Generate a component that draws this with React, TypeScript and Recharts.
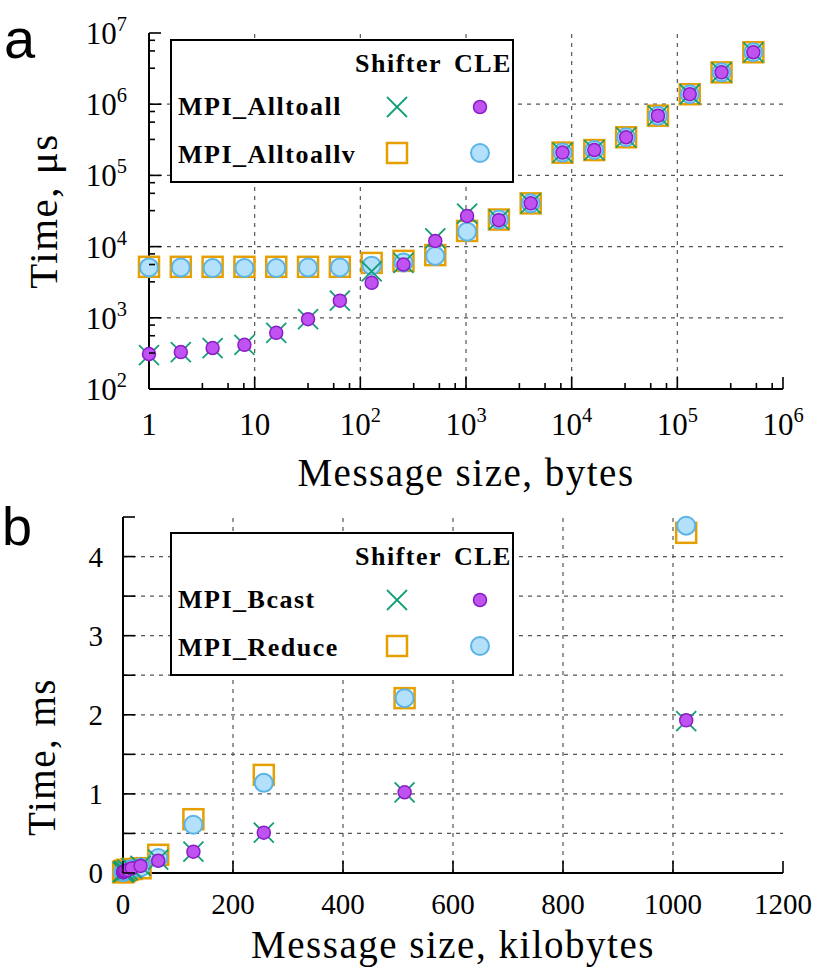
import React from "react";
import { ScatterChart, Scatter, XAxis, YAxis, ReferenceLine, Legend } from "recharts";

const SERIF = '"Liberation Serif", "Times New Roman", serif';
const SANS = '"Liberation Sans", Arial, sans-serif';

const GREEN = "#129e78";
const PURPLE_FILL = "#c152f2";
const PURPLE_LINE = "#8a1ec6";
const ORANGE = "#e69f00";
const BLUE_FILL = "#b3e0fa";
const BLUE_LINE = "#5ab4e8";
const GRID = "#555";

// panel a: message size in bytes, time in microseconds
const bytes = [1, 2, 4, 8, 16, 32, 64, 128, 256, 512, 1024, 2048, 4096, 8192, 16384, 32768, 65536, 131072, 262144, 524288];
const alltoallShifter = [300, 330, 376, 417, 615, 955, 1740, 4500, 5900, 13000, 29000, 24000, 40500, 209000, 227000, 343000, 690000, 1380000, 2800000, 5360000];
const alltoallCLE = [310, 330, 376, 417, 615, 955, 1740, 3100, 5600, 12000, 27000, 23500, 40500, 209000, 227000, 343000, 690000, 1380000, 2800000, 5360000];
const alltoallvShifter = [5200, 5200, 5200, 5200, 5200, 5200, 5200, 5900, 6300, 7600, 16600, 24000, 40500, 209000, 227000, 343000, 690000, 1380000, 2800000, 5360000];
const alltoallvCLE = [5100, 5100, 5000, 5000, 5000, 5100, 5100, 5400, 6000, 7400, 16200, 24000, 40500, 209000, 227000, 343000, 690000, 1380000, 2800000, 5360000];

// panel b: message size in kilobytes, time in milliseconds
const kilobytes = [0.25, 0.5, 1, 2, 4, 8, 16, 32, 64, 128, 256, 512, 1024];
const bcastShifter = [0.01, 0.01, 0.015, 0.02, 0.025, 0.04, 0.06, 0.09, 0.17, 0.27, 0.51, 1.02, 1.92];
const bcastCLE = [0.01, 0.01, 0.015, 0.02, 0.025, 0.035, 0.06, 0.09, 0.155, 0.27, 0.51, 1.02, 1.93];
const reduceShifter = [0.01, 0.012, 0.015, 0.02, 0.03, 0.04, 0.05, 0.06, 0.23, 0.68, 1.24, 2.21, 4.3];
const reduceCLE = [0.01, 0.012, 0.015, 0.02, 0.03, 0.04, 0.05, 0.07, 0.19, 0.61, 1.14, 2.21, 4.39];

// ticks
const xMajorA = [1, 10, 100, 1e3, 1e4, 1e5, 1e6];
const yMajorA = [1e2, 1e3, 1e4, 1e5, 1e6, 1e7];
const minorSteps = [3.2, 5.6, 7.9];
const xGridA = [10, 100, 1e3, 1e4, 1e5];
const yGridA = [1e3, 1e4, 1e5, 1e6];
const xTicksB = [0, 200, 400, 600, 800, 1000, 1200];
const yTicksB = [0, 0.5, 1, 1.5, 2, 2.5, 3, 3.5, 4, 4.5];
const xGridB = [200, 400, 600, 800, 1000];
const yGridB = [0.5, 1, 1.5, 2, 2.5, 3, 3.5, 4];

const withMinor = (majors: number[]) => [
  ...majors,
  ...majors.slice(0, -1).flatMap((m) => minorSteps.map((s) => s * m)),
];
const xTicksA = withMinor(xMajorA);
const yTicksA = withMinor(yMajorA);

const toRows = (xs: number[], ys: number[]) => xs.map((x, i) => ({ x, y: ys[i] }));

// markers
const CrossMark = ({ cx, cy }: any) => (
  <g>
    <line x1={cx - 10} y1={cy - 10} x2={cx + 10} y2={cy + 10} stroke={GREEN} strokeWidth={1.8} />
    <line x1={cx - 10} y1={cy + 10} x2={cx + 10} y2={cy - 10} stroke={GREEN} strokeWidth={1.8} />
  </g>
);
const DotMark = ({ cx, cy }: any) => (
  <circle cx={cx} cy={cy} r={6.5} fill={PURPLE_FILL} stroke={PURPLE_LINE} strokeWidth={1.5} />
);
const SquareMark = ({ cx, cy }: any) => (
  <rect x={cx - 10} y={cy - 10} width={20} height={20} fill="none" stroke={ORANGE} strokeWidth={2.5} />
);
const CircleMark = ({ cx, cy }: any) => (
  <circle cx={cx} cy={cy} r={9} fill={BLUE_FILL} stroke={BLUE_LINE} strokeWidth={2} />
);

function PowLabel({ x, y, value, anchor, size }: any) {
  const e = Math.round(Math.log10(value));
  return (
    <text x={x} y={y} textAnchor={anchor} fontFamily={SERIF} fontSize={size} fill="#000">
      {e === 0 ? "1" : "10"}
      {e > 1 && (
        <tspan dy={-size * 0.42} fontSize={size * 0.66}>
          {e}
        </tspan>
      )}
    </text>
  );
}

const isMajor = (list: number[], v: number) => list.includes(v);

// tick renderers draw inward tick marks (gnuplot style)
const bottomTickA = (p: any) => {
  const major = isMajor(xMajorA, p.payload.value);
  return (
    <g>
      <line x1={p.x} x2={p.x} y1={p.y} y2={p.y - (major ? 12 : 6)} stroke="#000" strokeWidth={1.6} />
      {major && <PowLabel x={p.x} y={p.y + 46} value={p.payload.value} anchor="middle" size={31} />}
    </g>
  );
};
const topTickA = (p: any) => {
  const major = isMajor(xMajorA, p.payload.value);
  return <line x1={p.x} x2={p.x} y1={p.y} y2={p.y + (major ? 12 : 6)} stroke="#000" strokeWidth={1.6} />;
};
const leftTickA = (p: any) => {
  const major = isMajor(yMajorA, p.payload.value);
  return (
    <g>
      <line x1={p.x} x2={p.x + (major ? 12 : 6)} y1={p.y} y2={p.y} stroke="#000" strokeWidth={1.6} />
      {major && <PowLabel x={p.x - 22} y={p.y + 11} value={p.payload.value} anchor="end" size={31} />}
    </g>
  );
};
const rightTickA = (p: any) => {
  const major = isMajor(yMajorA, p.payload.value);
  return <line x1={p.x} x2={p.x - (major ? 12 : 6)} y1={p.y} y2={p.y} stroke="#000" strokeWidth={1.6} />;
};

const bottomTickB = (p: any) => (
  <g>
    <line x1={p.x} x2={p.x} y1={p.y} y2={p.y - 12} stroke="#000" strokeWidth={1.6} />
    <text x={p.x} y={p.y + 41} textAnchor="middle" fontFamily={SERIF} fontSize={29}>
      {p.payload.value}
    </text>
  </g>
);
const topTickB = (p: any) => (
  <line x1={p.x} x2={p.x} y1={p.y} y2={p.y + 12} stroke="#000" strokeWidth={1.6} />
);
const leftTickB = (p: any) => (
  <g>
    <line x1={p.x} x2={p.x + 12} y1={p.y} y2={p.y} stroke="#000" strokeWidth={1.6} />
    {Number.isInteger(p.payload.value) && (
      <text x={p.x - 20} y={p.y + 10} textAnchor="end" fontFamily={SERIF} fontSize={29}>
        {p.payload.value}
      </text>
    )}
  </g>
);
const rightTickB = (p: any) => (
  <line x1={p.x} x2={p.x - 12} y1={p.y} y2={p.y} stroke="#000" strokeWidth={1.6} />
);

function LegendBox({ rows }: { rows: string[] }) {
  const label = { fontFamily: SERIF, fontSize: 26, fontWeight: 700, letterSpacing: 1.5 };
  return (
    <svg width={344} height={144} style={{ display: "block" }}>
      <rect x={1} y={1} width={342} height={142} fill="#fff" stroke="#000" strokeWidth={2} />
      <text x={185} y={33} {...label}>Shifter</text>
      <text x={284} y={33} {...label}>CLE</text>
      <text x={8} y={76} {...label}>{rows[0]}</text>
      <text x={8} y={124} {...label}>{rows[1]}</text>
      <CrossMark cx={227} cy={68} />
      <DotMark cx={310} cy={68} />
      <SquareMark cx={227} cy={114} />
      <CircleMark cx={310} cy={114} />
    </svg>
  );
}

const axisLine = { stroke: "#000", strokeWidth: 2 };
const titleStyle = { fontFamily: SERIF, fontSize: 39, letterSpacing: 1.5, fill: "#000" };

export default function App() {
  return (
    <div style={{ position: "absolute", left: 0, top: 0, width: 829, height: 977, background: "#fff" }}>
      <div style={{ position: "absolute", left: 0, top: 0 }}>
        <ScatterChart width={829} height={500} margin={{ top: 33, right: 46, bottom: 0, left: 0 }}>
          <XAxis
            dataKey="x"
            type="number"
            scale="log"
            domain={[1, 1e6]}
            ticks={xTicksA}
            interval={0}
            height={111}
            tickSize={0}
            tickMargin={0}
            tickLine={false}
            axisLine={axisLine}
            tick={bottomTickA}
            label={{ value: "Message size, bytes", position: "insideBottom", offset: 14, style: titleStyle }}
          />
          <XAxis xAxisId="top" orientation="top" type="number" scale="log" domain={[1, 1e6]} allowDataOverflow ticks={xTicksA} interval={0} height={0} tickSize={0} tickMargin={0} tickLine={false} axisLine={axisLine} tick={topTickA} />
          <YAxis
            dataKey="y"
            type="number"
            scale="log"
            domain={[100, 1e7]}
            ticks={yTicksA}
            interval={0}
            width={149}
            tickSize={0}
            tickMargin={0}
            tickLine={false}
            axisLine={axisLine}
            tick={leftTickA}
            label={{ value: "Time, μs", angle: -90, position: "center", dx: -32, style: { ...titleStyle, fontSize: 41 } }}
          />
          <YAxis yAxisId="right" orientation="right" type="number" scale="log" domain={[100, 1e7]} allowDataOverflow ticks={yTicksA} interval={0} width={0} tickSize={0} tickMargin={0} tickLine={false} axisLine={axisLine} tick={rightTickA} />
          {xGridA.map((v) => (
            <ReferenceLine key={"x" + v} x={v} stroke={GRID} strokeDasharray="4 5" strokeWidth={1.2} />
          ))}
          {yGridA.map((v) => (
            <ReferenceLine key={"y" + v} y={v} stroke={GRID} strokeDasharray="4 5" strokeWidth={1.2} />
          ))}
          <Scatter name="MPI_Alltoallv Shifter" data={toRows(bytes, alltoallvShifter)} shape={SquareMark} isAnimationActive={false} />
          <Scatter name="MPI_Alltoallv CLE" data={toRows(bytes, alltoallvCLE)} shape={CircleMark} isAnimationActive={false} />
          <Scatter name="MPI_Alltoall Shifter" data={toRows(bytes, alltoallShifter)} shape={CrossMark} isAnimationActive={false} />
          <Scatter name="MPI_Alltoall CLE" data={toRows(bytes, alltoallCLE)} shape={DotMark} isAnimationActive={false} />
          <Legend
            layout="vertical"
            align="center"
            verticalAlign="middle"
            wrapperStyle={{ top: 39, left: 170, width: 344, height: 144 }}
            content={() => <LegendBox rows={["MPI_Alltoall", "MPI_Alltoallv"]} />}
          />
        </ScatterChart>
      </div>

      <div style={{ position: "absolute", left: 0, top: 500 }}>
        <ScatterChart width={829} height={477} margin={{ top: 17, right: 46, bottom: 0, left: 0 }}>
          <XAxis
            dataKey="x"
            type="number"
            domain={[0, 1200]}
            ticks={xTicksB}
            interval={0}
            height={104}
            tickSize={0}
            tickMargin={0}
            tickLine={false}
            axisLine={axisLine}
            tick={bottomTickB}
            label={{ value: "Message size, kilobytes", position: "insideBottom", offset: 19, style: titleStyle }}
          />
          <XAxis xAxisId="top" orientation="top" type="number" domain={[0, 1200]} allowDataOverflow ticks={xGridB} interval={0} height={0} tickSize={0} tickMargin={0} tickLine={false} axisLine={axisLine} tick={topTickB} />
          <YAxis
            dataKey="y"
            type="number"
            domain={[0, 4.5]}
            ticks={yTicksB}
            interval={0}
            width={123}
            tickSize={0}
            tickMargin={0}
            tickLine={false}
            axisLine={axisLine}
            tick={leftTickB}
            label={{ value: "Time, ms", angle: -90, position: "center", dx: -20, dy: 62, style: titleStyle }}
          />
          <YAxis yAxisId="right" orientation="right" type="number" domain={[0, 4.5]} allowDataOverflow ticks={yTicksB} interval={0} width={0} tickSize={0} tickMargin={0} tickLine={false} axisLine={axisLine} tick={rightTickB} />
          {xGridB.map((v) => (
            <ReferenceLine key={"x" + v} x={v} stroke={GRID} strokeDasharray="4 5" strokeWidth={1.2} />
          ))}
          {yGridB.map((v) => (
            <ReferenceLine key={"y" + v} y={v} stroke={GRID} strokeDasharray="4 5" strokeWidth={1.2} />
          ))}
          <Scatter name="MPI_Reduce Shifter" data={toRows(kilobytes, reduceShifter)} shape={SquareMark} isAnimationActive={false} />
          <Scatter name="MPI_Reduce CLE" data={toRows(kilobytes, reduceCLE)} shape={CircleMark} isAnimationActive={false} />
          <Scatter name="MPI_Bcast Shifter" data={toRows(kilobytes, bcastShifter)} shape={CrossMark} isAnimationActive={false} />
          <Scatter name="MPI_Bcast CLE" data={toRows(kilobytes, bcastCLE)} shape={DotMark} isAnimationActive={false} />
          <Legend
            layout="vertical"
            align="center"
            verticalAlign="middle"
            wrapperStyle={{ top: 32, left: 170, width: 344, height: 144 }}
            content={() => <LegendBox rows={["MPI_Bcast", "MPI_Reduce"]} />}
          />
        </ScatterChart>
      </div>

      <svg width={829} height={977} style={{ position: "absolute", left: 0, top: 0, pointerEvents: "none" }}>
        <text x={4} y={58} fontFamily={SANS} fontSize={56}>a</text>
        <text x={2} y={545} fontFamily={SANS} fontSize={54}>b</text>
      </svg>
    </div>
  );
}
